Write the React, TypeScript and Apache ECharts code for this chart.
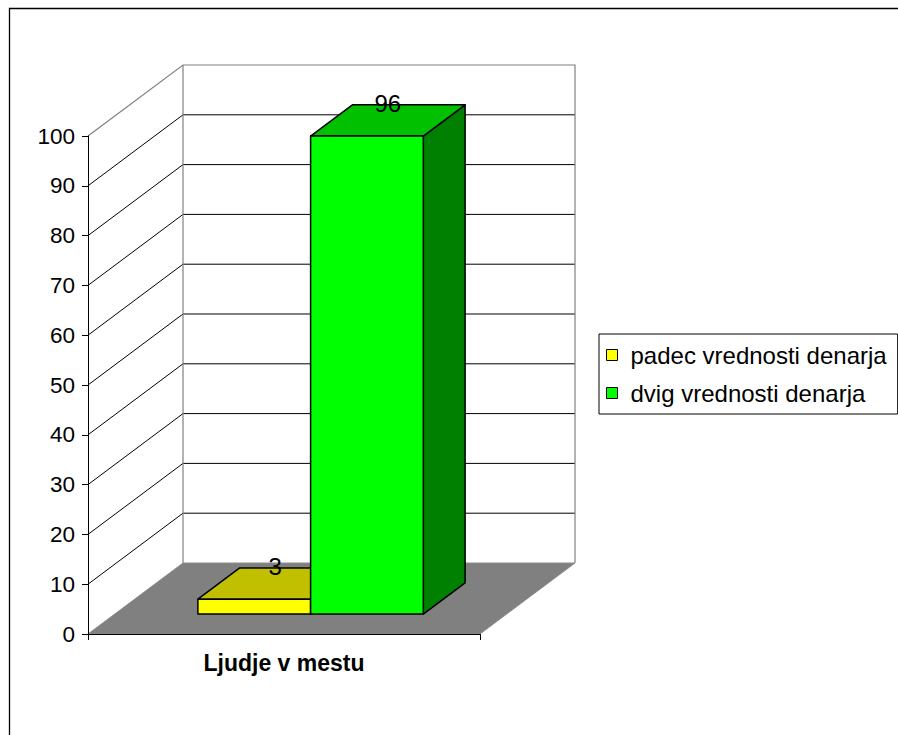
import React, { useEffect, useRef } from "react";
import * as echarts from "echarts";

const categories = ["Ljudje v mestu"];
const seriesNames = ["padec vrednosti denarja", "dvig vrednosti denarja"];
const padecValues = [3];
const dvigValues = [96];
const yTicks = [0, 10, 20, 30, 40, 50, 60, 70, 80, 90, 100];

const FONT = "'Liberation Sans', Arial, sans-serif";
const DX = 95;
const DY = -71;
const BAR_FRAC = 0.2875;
const F0 = 0.28;
const F1 = 0.72;

const barColors = [
  { front: "#FFFF00", top: "#C0C000", side: "#808000" },
  { front: "#00FF00", top: "#00C000", side: "#008000" },
];

function makeBarRender(s: number, nBars: number) {
  return (params: any, api: any) => {
    const cat = api.value(0);
    const v = api.value(1);
    const base = api.coord([cat, 0]);
    const topP = api.coord([cat, v]);
    const band = api.size([1, 0])[0];
    const barW = band * BAR_FRAC;
    const xl = base[0] - (nBars * barW) / 2 + s * barW;
    const xr = xl + barW;
    const yb = base[1];
    const yv = topP[1];
    const ox0 = DX * F0, oy0 = DY * F0, ox1 = DX * F1, oy1 = DY * F1;
    const c = barColors[s];
    const stroke = { stroke: "#000", lineWidth: 1.5, lineJoin: "round" };
    return {
      type: "group",
      children: [
        {
          type: "polygon",
          shape: { points: [[xr + ox0, yv + oy0], [xr + ox1, yv + oy1], [xr + ox1, yb + oy1], [xr + ox0, yb + oy0]] },
          style: { fill: c.side, ...stroke },
        },
        {
          type: "polygon",
          shape: { points: [[xl + ox0, yv + oy0], [xr + ox0, yv + oy0], [xr + ox1, yv + oy1], [xl + ox1, yv + oy1]] },
          style: { fill: c.top, ...stroke },
        },
        {
          type: "polygon",
          shape: { points: [[xl + ox0, yv + oy0], [xr + ox0, yv + oy0], [xr + ox0, yb + oy0], [xl + ox0, yb + oy0]] },
          style: { fill: c.front, ...stroke },
        },
        {
          type: "text",
          z2: 100,
          style: {
            text: String(v),
            x: (xl + ox0 + xr + ox1) / 2,
            y: yv + (oy0 + oy1) / 2 - 17,
            align: "center",
            verticalAlign: "middle",
            textAlign: "center",
            textVerticalAlign: "middle",
            fill: "#000",
            fontSize: 24,
            fontFamily: FONT,
          },
        },
      ],
    };
  };
}

function renderWalls(params: any, api: any) {
  const base = api.coord([0, 0]);
  const band = api.size([1, 0])[0];
  const xL = base[0] - band / 2;
  const xR = base[0] + band / 2;
  const yB = base[1];
  const yT = api.coord([0, yTicks[yTicks.length - 1]])[1];
  const gray = { stroke: "#808080", lineWidth: 1.2 };
  const children: any[] = [];
  yTicks.slice(1, -1).forEach((t) => {
    const y = api.coord([0, t])[1];
    children.push({
      type: "polyline",
      shape: { points: [[xL, y], [xL + DX, y + DY], [xR + DX, y + DY]] },
      style: { fill: null, stroke: "#000", lineWidth: 1 },
    });
  });
  children.push({
    type: "polyline",
    shape: { points: [[xL, yT], [xL + DX, yT + DY], [xR + DX, yT + DY], [xR + DX, yB + DY]] },
    style: { fill: null, ...gray },
  });
  children.push({
    type: "line",
    shape: { x1: xL + DX, y1: yT + DY, x2: xL + DX, y2: yB + DY },
    style: gray,
  });
  children.push({
    type: "polygon",
    shape: { points: [[xL, yB], [xR, yB], [xR + DX, yB + DY], [xL + DX, yB + DY]] },
    style: { fill: "#808080", stroke: "#8c8c8c", lineWidth: 1 },
  });
  return { type: "group", children };
}

export default function App() {
  const ref = useRef<HTMLDivElement>(null);
  useEffect(() => {
    const chart = echarts.init(ref.current!, null, { renderer: "svg" });
    chart.setOption({
      animation: false,
      backgroundColor: "#fff",
      textStyle: { fontFamily: FONT },
      graphic: [
        {
          type: "rect",
          shape: { x: 9.5, y: 8.5, width: 1000, height: 1000 },
          style: { fill: null, stroke: "#000", lineWidth: 1.3 },
          silent: true,
        },
      ],
      grid: { left: 88, right: 418, top: 136, bottom: 101 },
      legend: {
        orient: "vertical",
        left: 599,
        top: 334,
        data: seriesNames,
        icon: "rect",
        itemWidth: 11,
        itemHeight: 11,
        itemGap: 14,
        padding: [9, 11, 9, 7],
        borderColor: "#000",
        borderWidth: 1,
        borderRadius: 0,
        itemStyle: { borderColor: "#000", borderWidth: 1 },
        textStyle: { fontSize: 24, color: "#000", fontFamily: FONT, padding: [0, 0, 0, 8] },
      },
      xAxis: {
        type: "category",
        data: categories,
        z: 5,
        axisLine: { lineStyle: { color: "#000", width: 1 } },
        axisTick: { show: true, length: 6, lineStyle: { color: "#000" } },
        axisLabel: { fontSize: 23, fontWeight: "bold", color: "#000", margin: 17, fontFamily: FONT },
        splitLine: { show: false },
      },
      yAxis: {
        type: "value",
        min: 0,
        max: 100,
        interval: 10,
        z: 5,
        axisLine: { show: true, lineStyle: { color: "#000", width: 1 } },
        axisTick: { show: true, length: 6, lineStyle: { color: "#000" } },
        axisLabel: { fontSize: 22.5, color: "#000", margin: 13, fontFamily: FONT },
        splitLine: { show: false },
      },
      series: [
        {
          type: "custom",
          name: "walls",
          silent: true,
          renderItem: renderWalls,
          data: [[0, 0]],
          encode: { x: 0, y: 1 },
          z: 1,
        },
        {
          type: "custom",
          name: seriesNames[0],
          renderItem: makeBarRender(0, 2),
          data: padecValues.map((v, i) => [i, v]),
          encode: { x: 0, y: 1 },
          itemStyle: { color: barColors[0].front },
          z: 2,
        },
        {
          type: "custom",
          name: seriesNames[1],
          renderItem: makeBarRender(1, 2),
          data: dvigValues.map((v, i) => [i, v]),
          encode: { x: 0, y: 1 },
          itemStyle: { color: barColors[1].front },
          z: 3,
        },
      ],
    });
    return () => chart.dispose();
  }, []);
  return <div ref={ref} style={{ position: "absolute", left: 0, top: 0, width: 898, height: 735 }} />;
}
